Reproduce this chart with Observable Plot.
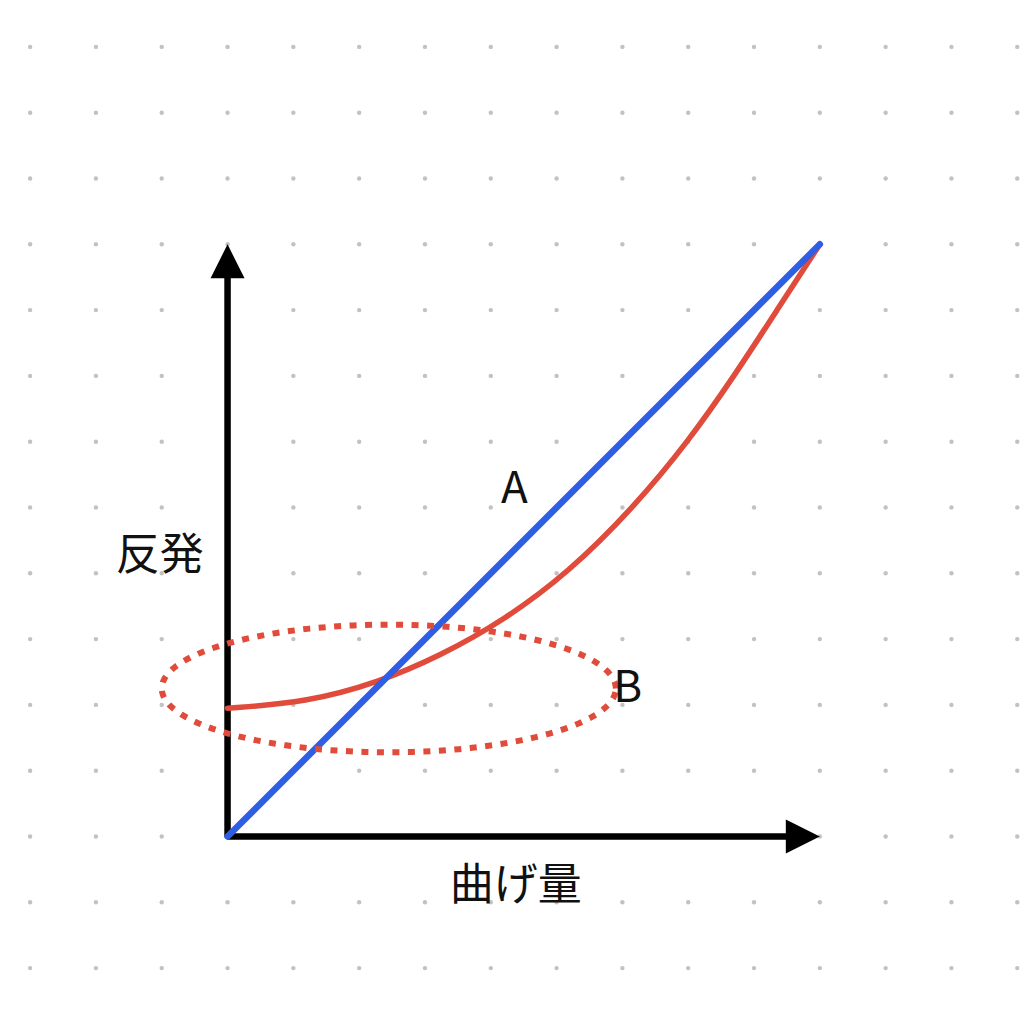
<!DOCTYPE html>
<html><head><meta charset="utf-8">
<script src="https://cdn.jsdelivr.net/npm/d3@7"></script>
<script src="https://cdn.jsdelivr.net/npm/@observablehq/plot@0.6"></script>
<style>html,body{margin:0;padding:0;background:#fff;overflow:hidden}</style>
</head><body><div id="chart"></div>
<script>
// dotted background grid (grid units)
const gridCols = [-3,-2,-1,0,1,2,3,4,5,6,7,8,9,10,11,12];
const gridRows = [-2,-1,0,1,2,3,4,5,6,7,8,9,10,11,12];
// axes extent
const axisMax = 9;
// line A (straight)
const lineA_x = [0, 9];
const lineA_y = [0, 9];
// curve B
const curveB_x = [0, 1.2, 2.29, 3.24, 4.19, 5.18, 6.17, 7.0, 7.7, 8.35, 9.0];
const curveB_y = [1.95, 2.04, 2.34, 2.75, 3.28, 4.01, 5.0, 6.0, 7.0, 8.0, 9.0];
// dotted ellipse highlighting region B
const ellipseCx = 2.45, ellipseCy = 2.25, ellipseRx = 3.45, ellipseRy = 0.97;
// labels
const labelText = ["A", "B", "反発", "曲げ量"];
const labelX = [4.36, 6.08, -1.03, 4.38];
const labelY = [5.29, 2.26, 4.27, -0.745];

const blue = "#2e5ee6";
const red = "#e04b3b";

const gridData = d3.cross(gridCols, gridRows).map(([x, y]) => ({x, y}));
const lineA = lineA_x.map((x, i) => ({x, y: lineA_y[i]}));
const curveB = curveB_x.map((x, i) => ({x, y: curveB_y[i]}));
const ellipse = d3.range(0, 360, 3).map(a => {
  const t = a * Math.PI / 180;
  return {x: ellipseCx + ellipseRx * Math.cos(t), y: ellipseCy + ellipseRy * Math.sin(t)};
});
const axisPath = [{x: 0, y: axisMax - 0.3}, {x: 0, y: 0}, {x: axisMax - 0.3, y: 0}];
const arrowHeads = [{x: 0, y: axisMax, rot: 0}, {x: axisMax, y: 0, rot: 90}];
const labels = labelText.map((t, i) => ({t, x: labelX[i], y: labelY[i]}));

const arrowHead = {
  draw(ctx, size) {
    const r = Math.sqrt(size / Math.PI);
    ctx.moveTo(0, 0);
    ctx.lineTo(r, 2 * r);
    ctx.lineTo(-r, 2 * r);
    ctx.closePath();
  }
};

const chart = Plot.plot({
  width: 1024,
  height: 1024,
  margin: 0,
  style: {background: "white"},
  x: {domain: [-3.45, 12.11], axis: null},
  y: {domain: [-2.857, 12.705], axis: null},
  marks: [
    Plot.dot(gridData, {x: "x", y: "y", r: 2.2, fill: "#c2c2c2", stroke: "none"}),
    Plot.line(axisPath, {x: "x", y: "y", stroke: "black", strokeWidth: 6.5, strokeLinejoin: "miter", strokeLinecap: "butt"}),
    Plot.dot(arrowHeads, {x: "x", y: "y", rotate: "rot", symbol: arrowHead, r: 17, fill: "black", stroke: "none"}),
    Plot.line(curveB, {x: "x", y: "y", stroke: red, strokeWidth: 5.5, curve: "basis"}),
    Plot.line(lineA, {x: "x", y: "y", stroke: blue, strokeWidth: 6.5}),
    Plot.line(ellipse, {x: "x", y: "y", stroke: red, strokeWidth: 6, curve: "linear-closed", strokeDasharray: "7,8.5", strokeLinecap: "butt"}),
    Plot.text(labels, {x: "x", y: "y", text: "t", fontSize: 44, fontFamily: "Noto Sans CJK JP", fill: "#111", textAnchor: "middle", lineAnchor: "middle"})
  ]
});
document.getElementById("chart").appendChild(chart);
</script>
</body></html>
